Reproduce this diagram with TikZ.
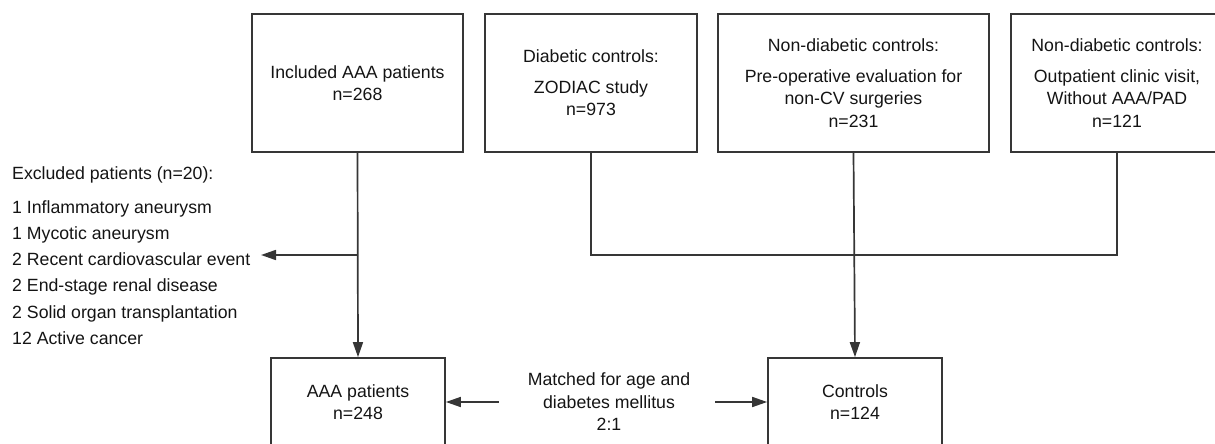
\documentclass[tikz,border=0pt]{standalone}
\usepackage{fontspec}
\setmainfont{Liberation Sans}
\usetikzlibrary{arrows.meta}
\definecolor{ln}{HTML}{363636}
\definecolor{tx}{HTML}{141414}
\begin{document}
\begin{tikzpicture}[x=1pt,y=-1pt,
  box/.style={draw=ln, line width=1.7pt, inner sep=0pt, align=center, text=tx,
    font=\fontsize{17.7}{22.5}\selectfont},
  lbl/.style={inner sep=0pt, text=tx, font=\fontsize{17.7}{22.5}\selectfont, text height=12.6pt, text depth=0pt},
  con/.style={draw=ln, line width=1.7pt},
  arr/.style={con, -{Triangle[length=15pt,width=10pt]}}]
\useasboundingbox (0,0) rectangle (1215,444);
% top boxes
\node[box, minimum width=211pt, minimum height=138pt] (inc) at (357.5,83) {Included AAA patients\\n=268};
\node[box, minimum width=212pt, minimum height=138pt] (dia) at (591,83) {Diabetic controls:\\[8pt]ZODIAC study\\n=973};
\node[box, minimum width=271pt, minimum height=138pt] (pre) at (853.5,83) {Non-diabetic controls:\\[8pt]Pre-operative evaluation for\\non-CV surgeries\\n=231};
\node[box, minimum width=212pt, minimum height=138pt] (out) at (1117,83) {Non-diabetic controls:\\[8pt]Outpatient clinic visit,\\Without AAA/PAD\\n=121};
% bottom boxes
\node[box, minimum width=174pt, minimum height=88pt] (aaa) at (358,402) {AAA patients\\n=248};
\node[box, minimum width=174pt, minimum height=88pt] (ctrl) at (855,402) {Controls\\n=124};
\node[box, draw=none] (match) at (609,402) {Matched for age and\\diabetes mellitus\\2:1};
% excluded list
\node[lbl, anchor=west] (ex0) at (12,173) {Excluded patients (n=20):};
\node[lbl, anchor=west] (ex1) at (12,207) {1 Inflammatory aneurysm};
\node[lbl, anchor=west] (ex2) at (12,233) {1 Mycotic aneurysm};
\node[lbl, anchor=west] (ex3) at (12,259) {2 Recent cardiovascular event};
\node[lbl, anchor=west] (ex4) at (12,285) {2 End-stage renal disease};
\node[lbl, anchor=west] (ex5) at (12,312) {2 Solid organ transplantation};
\node[lbl, anchor=west] (ex6) at (12,338) {12 Active cancer};
% connectors
\coordinate (split) at (358,255);
\coordinate (exend) at (261,255);
\draw[arr] (inc.south) -- (aaa.north);
\draw[arr] (split) -- (exend);
\coordinate (join) at (591,255);
\draw[con] (dia.south) -- (join) -| (out.south);
\draw[arr] (pre.south) -- (ctrl.north);
\draw[arr] ([xshift=-28pt]match.west) -- (aaa.east);
\draw[arr] ([xshift=24pt]match.east) -- (ctrl.west);
\end{tikzpicture}
\end{document}
